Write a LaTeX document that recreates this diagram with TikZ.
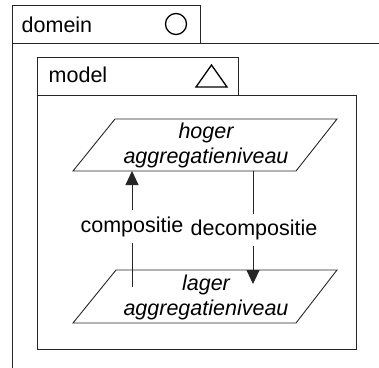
\documentclass[tikz,border=0pt]{standalone}
\usepackage{fontspec}
\setmainfont{Liberation Sans}
\usetikzlibrary{arrows.meta}
\begin{document}
\begin{tikzpicture}[x=1bp,y=-1bp,
  frame/.style={draw=black!85,line width=0.9bp},
  icon/.style={draw=black,line width=1.3bp},
  txt/.style={font=\fontsize{21.5bp}{25bp}\selectfont,inner sep=0pt},
  levelbox/.style={draw=black!85,line width=0.9bp,fill=white},
  leveltxt/.style={txt,font=\fontsize{21.5bp}{25bp}\selectfont\itshape,align=center},
  steplabel/.style={txt,inner xsep=2bp,inner ysep=6bp},
  flow/.style={draw=black!85,line width=0.9bp},
  flowtip/.style={flow,-{Triangle[width=13bp,length=14bp]}}]
\useasboundingbox (0,0) rectangle (379,368);

% package "domein": tab plus open body frame
\draw[frame] (12,5) rectangle (200,43);
\draw[frame] (379,43) -- (12,43) -- (12,368);
\node[txt,anchor=base west] (domein) at (21.5,32) {domein};
\draw[icon] (176,24) circle (10.5);

% package "model": tab plus body
\draw[frame] (37,57) rectangle (238,95);
\draw[frame] (37,95) rectangle (356,349);
\node[txt,anchor=base west] (model) at (48.5,82.5) {model};
\draw[icon] (211.5,65) -- (227,87) -- (196,87) -- cycle;

% aggregation levels as parallelograms
\draw[levelbox] (115,119) -- (337,119) -- (296,171) -- (73,171) -- cycle;
\node[leveltxt] (hoger) at (206,145.7) {hoger\\aggregatieniveau};
\draw[levelbox] (116,270) -- (337,270) -- (296,323) -- (73,323) -- cycle;
\node[leveltxt] (lager) at (206,297.5) {lager\\aggregatieniveau};

% connector end points on and inside the levels
\coordinate (compTop) at (132,171);
\coordinate (compBot) at (132,287);
\coordinate (decTop) at (253,171);
\coordinate (decBot) at (253,284);

% labels that interrupt the connectors
\node[steplabel,anchor=base] (comp) at (132,232) {compositie};
\node[steplabel,anchor=base] (decomp) at (254,235.5) {decompositie};

% composition: upward, decomposition: downward
\draw[flow] (compBot) -- (compBot |- comp.south);
\draw[flowtip] (compTop |- comp.north) -- (compTop);
\draw[flow] (decTop) -- (decTop |- decomp.north);
\draw[flowtip] (decBot |- decomp.south) -- (decBot);
\end{tikzpicture}
\end{document}
